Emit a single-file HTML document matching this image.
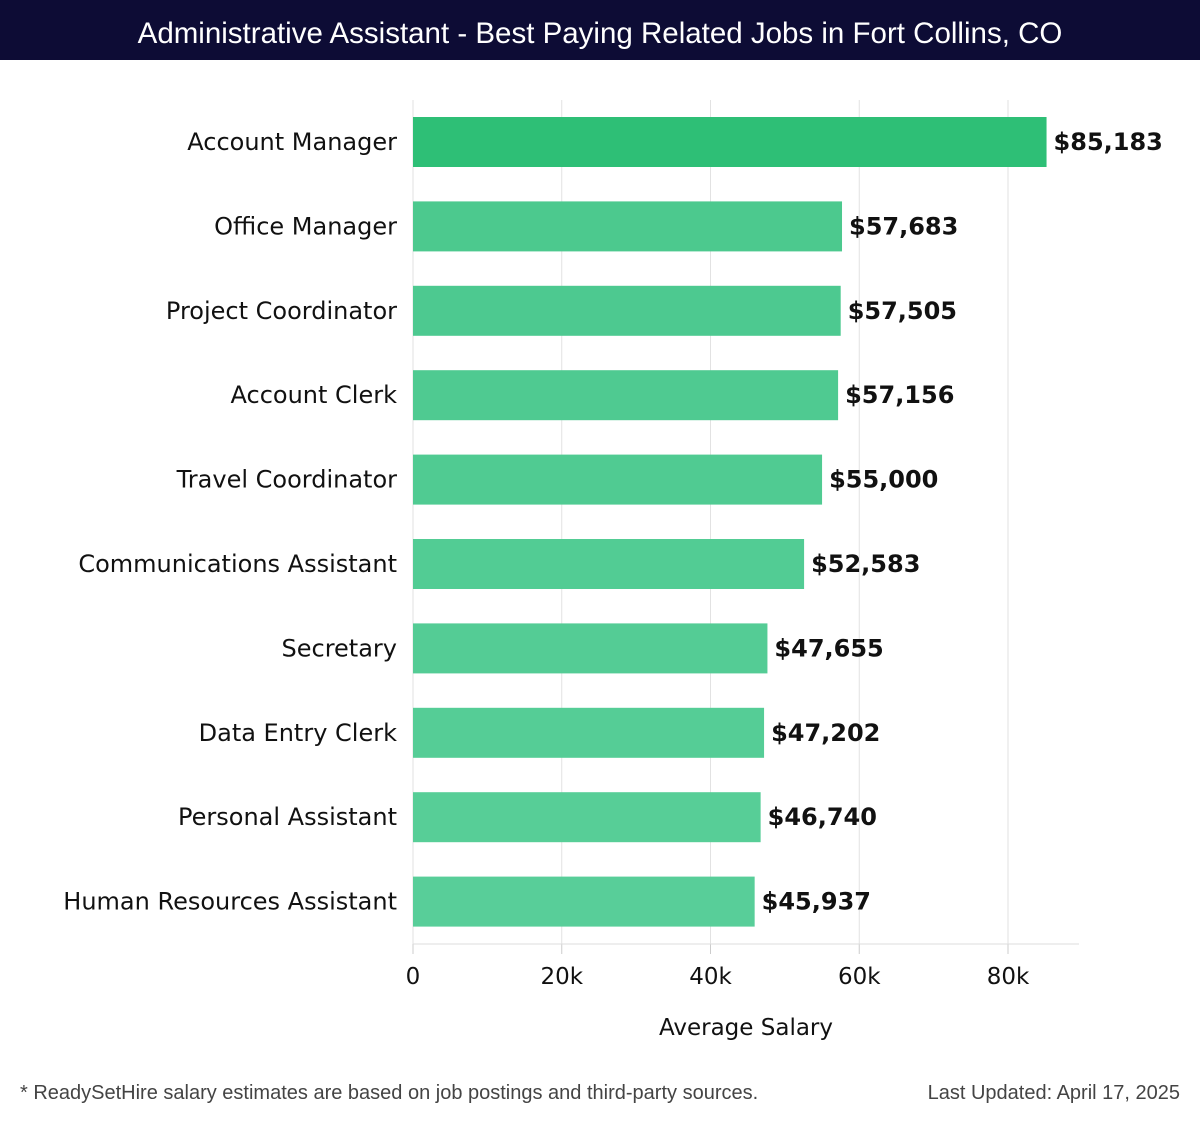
<!DOCTYPE html>
<html><head><meta charset="utf-8"><style>
body{margin:0;width:1200px;height:1120px;background:#fff;font-family:"DejaVu Sans","Liberation Sans",sans-serif;overflow:hidden}
</style></head><body>
<svg width="1200" height="1120" xmlns="http://www.w3.org/2000/svg">
<rect x="0" y="0" width="1200" height="60" fill="#0d0c35"/>
<text x="600" y="43" text-anchor="middle" fill="#fff" font-size="29.5" font-family="Liberation Sans, sans-serif">Administrative Assistant - Best Paying Related Jobs in Fort Collins, CO</text>
<g id="grid"></g><g id="bars"></g><g id="labels"></g>
<text x="746" y="1035" text-anchor="middle" font-size="23" fill="#111">Average Salary</text>
<text x="20" y="1099" font-size="20" fill="#444" font-family="Liberation Sans, sans-serif">* ReadySetHire salary estimates are based on job postings and third-party sources.</text>
<text x="1180" y="1099" text-anchor="end" font-size="20" fill="#444" font-family="Liberation Sans, sans-serif">Last Updated: April 17, 2025</text>
</svg>
<script>
const categories=["Account Manager","Office Manager","Project Coordinator","Account Clerk","Travel Coordinator","Communications Assistant","Secretary","Data Entry Clerk","Personal Assistant","Human Resources Assistant"];
const values=[85183,57683,57505,57156,55000,52583,47655,47202,46740,45937];
const ticks=[0,20000,40000,60000,80000];
const tickLabels=["0","20k","40k","60k","80k"];
const NS="http://www.w3.org/2000/svg";
const x0=413,pxPer=7.4375/1000,xEnd=1079,yTop=100,yAxis=944,pitch=84.4,bh=50,firstTop=117;
const x=v=>x0+v*pxPer;
function mk(t,a,p){const e=document.createElementNS(NS,t);for(const k in a)e.setAttribute(k,a[k]);p.appendChild(e);return e;}
const g=document.getElementById('grid'),b=document.getElementById('bars'),l=document.getElementById('labels');
ticks.forEach((t,i)=>{
 const ln=mk('line',{x1:x(t),x2:x(t),y1:yTop,y2:yAxis,stroke:'#e2e2e2','stroke-width':1},g);
 
 
 const tk=mk('line',{x1:x(t),x2:x(t),y1:yAxis,y2:yAxis+10,stroke:'#ccc'},g);
 
 
 const tx=mk('text',{x:x(t),y:984,'text-anchor':'middle','font-size':23,fill:'#111'},g);
 tx.textContent=tickLabels[i];
 
 
});
const ax=mk('line',{x1:x0,x2:xEnd,y1:yAxis,y2:yAxis,stroke:'#ddd'},g);


categories.forEach((c,i)=>{
 const y=firstTop+i*pitch;
 const fill=i===0?'#2ebf76':'rgb('+Math.round(74+i*1.6)+','+Math.round(200+i*0.7)+','+Math.round(141+i*1.3)+')';
 const r=mk('rect',{x:x0,y:y,width:x(values[i])-x0,height:bh,fill:fill},b);
 
 
 const cl=mk('text',{x:397,y:y+bh/2+8,'text-anchor':'end','font-size':24,fill:'#111'},l);
 cl.textContent=c;
 
 
 const vl=mk('text',{x:x(values[i])+7,y:y+bh/2+8,'font-size':24,'font-weight':'bold',fill:'#111'},l);
 vl.textContent='$'+values[i].toLocaleString('en-US');
 
 
});
</script>
</body></html>
